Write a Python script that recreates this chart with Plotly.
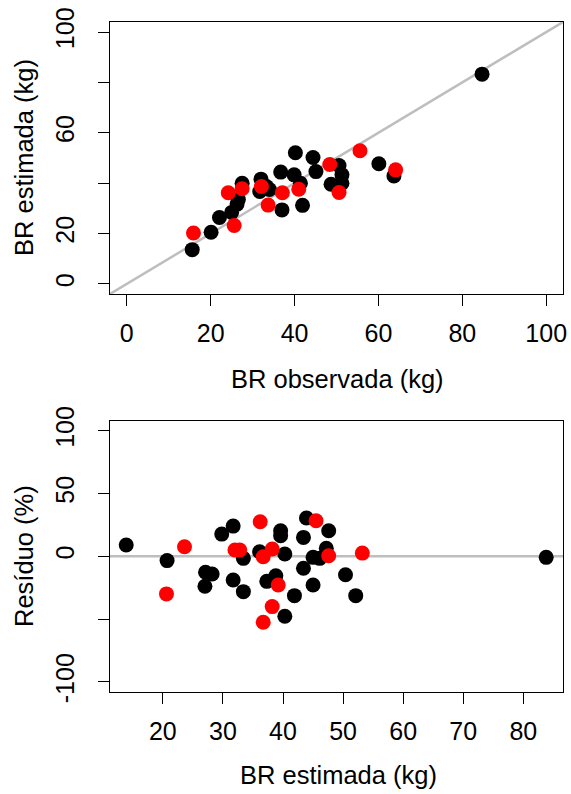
import plotly.graph_objects as go

# ---- Top panel: observed vs estimated ----
top_black_obs = [84.7, 15.6, 20.1, 22.1, 25.0, 26.3, 26.6, 27.5, 32.0, 31.7, 33.3, 34.0, 36.7, 37.0, 39.9,
                 40.2, 41.4, 41.9, 44.4, 45.1, 50.6, 51.3, 51.3, 48.7, 60.1, 63.7]
top_black_est = [83.3, 13.6, 20.5, 26.4, 28.4, 31.7, 33.5, 40.0, 41.6, 36.7, 38.7, 37.5, 44.4, 29.4, 43.3,
                 52.1, 40.0, 31.2, 50.2, 44.6, 47.0, 43.3, 40.0, 39.6, 47.7, 42.9]
top_red_obs = [15.9, 25.6, 24.2, 27.5, 32.1, 33.7, 37.1, 41.0, 48.4, 50.6, 55.6, 64.1]
top_red_est = [20.2, 23.2, 36.2, 37.8, 38.7, 31.3, 36.2, 37.6, 47.4, 36.3, 52.9, 45.3]

# ---- Bottom panel: estimated vs residual (%) ----
bot_black_est = [13.9, 20.7, 29.8, 31.7, 27.1, 28.2, 27.0, 31.7, 33.4, 33.4, 36.1, 37.3, 38.8, 39.6, 39.6,
                 40.3, 40.3, 41.9, 43.4, 43.4, 43.9, 45.0, 46.1, 45.0, 47.2, 47.6, 50.4, 52.1, 83.8]
bot_black_res = [9.0, -3.4, 17.7, 24.1, -12.7, -14.0, -23.8, -18.8, -28.1, -1.6, 3.7, -19.9, -15.4, 20.4, 16.4,
                 1.9, -47.7, -31.3, 15.1, -9.5, 30.5, -0.8, -1.6, -22.8, 6.4, 20.4, -14.6, -31.3, -0.8]
bot_red_est = [23.6, 20.6, 32.0, 32.8, 36.2, 36.7, 38.2, 39.2, 38.2, 36.7, 45.5, 47.6, 53.2]
bot_red_res = [7.7, -29.9, 5.0, 5.0, 27.6, -0.3, 5.8, -22.8, -40.0, -52.5, 28.3, 0.5, 2.6]

top_ticks = [0, 20, 40, 60, 80, 100]
top_ytext = ["0", "20", "", "60", "", "100"]
bot_xticks = [20, 30, 40, 50, 60, 70, 80]
bot_yticks = [-100, -50, 0, 50, 100]
bot_ytext = ["-100", "", "0", "50", "100"]

W, H = 571, 794
FONT = "Liberation Sans, Arial, sans-serif"
FS = 25
FT = 25.5

def px_x(p):
    return p / W

def px_y(p):
    return 1 - p / H

fig = go.Figure()

# reference lines
fig.add_trace(go.Scatter(x=[-4, 104], y=[-4, 104], mode="lines",
                         line=dict(color="#BEBEBE", width=2.5), xaxis="x", yaxis="y", showlegend=False))
fig.add_trace(go.Scatter(x=[11.2, 86.6], y=[0, 0], mode="lines",
                         line=dict(color="#BEBEBE", width=2.5), xaxis="x2", yaxis="y2", showlegend=False))

mk = dict(size=15, line=dict(width=0))
fig.add_trace(go.Scatter(x=top_black_obs, y=top_black_est, mode="markers",
                         marker=dict(color="black", **mk), xaxis="x", yaxis="y", showlegend=False))
fig.add_trace(go.Scatter(x=top_red_obs, y=top_red_est, mode="markers",
                         marker=dict(color="#FF0000", **mk), xaxis="x", yaxis="y", showlegend=False))
fig.add_trace(go.Scatter(x=bot_black_est, y=bot_black_res, mode="markers",
                         marker=dict(color="black", **mk), xaxis="x2", yaxis="y2", showlegend=False))
fig.add_trace(go.Scatter(x=bot_red_est, y=bot_red_res, mode="markers",
                         marker=dict(color="#FF0000", **mk), xaxis="x2", yaxis="y2", showlegend=False))

ax = dict(showline=True, mirror=True, linecolor="black", linewidth=1, showgrid=False, zeroline=False,
          ticks="outside", ticklen=11, tickwidth=1, tickcolor="black", automargin=False,
          tickfont=dict(family=FONT, size=FS, color="black"))

xd = [px_x(110), px_x(563)]
fig.update_layout(
    width=W, height=H, margin=dict(l=0, r=0, t=0, b=0),
    paper_bgcolor="white", plot_bgcolor="white",
    font=dict(family=FONT, size=FS, color="black"),
    xaxis=dict(domain=xd, range=[-4, 104], tickvals=top_ticks, anchor="y", ticklabelstandoff=6, **ax),
    yaxis=dict(domain=[px_y(294), px_y(22)], range=[-4, 104], tickvals=top_ticks, ticktext=top_ytext,
               tickangle=-90, anchor="x", ticklabelstandoff=14, **ax),
    xaxis2=dict(domain=xd, range=[11.2, 86.6], tickvals=bot_xticks, anchor="y2", ticklabelstandoff=6, **ax),
    yaxis2=dict(domain=[px_y(692), px_y(420.7)], range=[-108, 108], tickvals=bot_yticks, ticktext=bot_ytext,
                tickangle=-90, anchor="x2", ticklabelstandoff=14, **ax),
)

ann = dict(showarrow=False, xref="paper", yref="paper", xanchor="center", yanchor="middle",
           font=dict(family=FONT, size=FT, color="black"))
fig.add_annotation(text="BR observada (kg)", x=px_x(337.5), y=px_y(379), **ann)
fig.add_annotation(text="BR estimada (kg)", x=px_x(338), y=px_y(774.5), **ann)
fig.add_annotation(text="BR estimada (kg)", x=px_x(24), y=px_y(158), textangle=-90, **ann)
fig.add_annotation(text="Resíduo (%)", x=px_x(24), y=px_y(556), textangle=-90, **ann)

fig.write_html("out.html", config={"displayModeBar": False},
               post_script="document.body.style.margin='0px';")
